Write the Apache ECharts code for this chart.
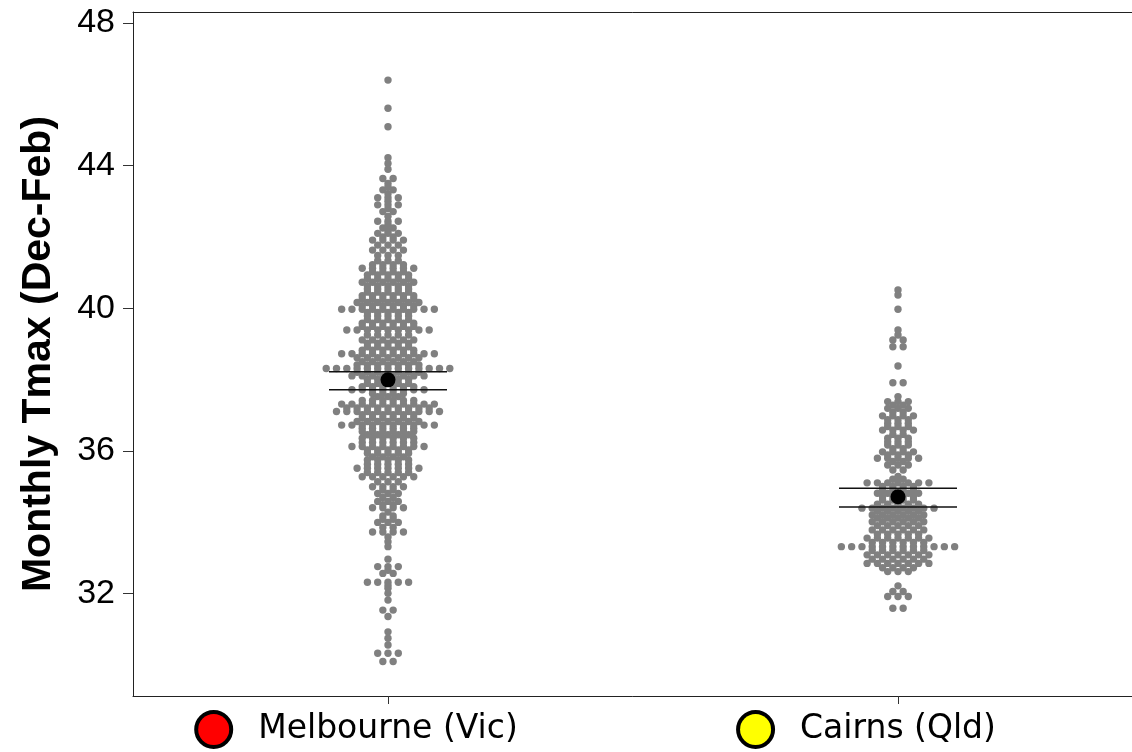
<!DOCTYPE html>
<html>
<head>
<meta charset="utf-8">
<script src="https://cdn.jsdelivr.net/npm/echarts@6/dist/echarts.min.js"></script>
<style>
html,body{margin:0;padding:0;background:#ffffff;}
#chart{width:1132px;height:752px;}
</style>
</head>
<body>
<div id="chart"></div>
<script>
// ---- data ----
const categories = ['Melbourne (Vic)', 'Cairns (Qld)'];
const keyColors = ['#ff0000', '#ffff00'];
const yTicks = [32, 36, 40, 44, 48];
const yTitle = 'Monthly Tmax (Dec-Feb)';

const melbourneTmax = [
  46.40, 45.61, 45.09, 44.22, 44.06, 43.90,
  43.64, 43.64, 43.50, 43.40, 43.32, 43.32, 43.21,
  43.10, 43.10, 43.10, 43.00, 42.90, 42.90, 42.90, 42.80, 42.71, 42.71, 42.58,
  42.44, 42.44, 42.44, 42.35, 42.25, 42.25, 42.17, 42.10, 42.10, 42.10, 42.00, 42.00,
  41.91, 41.91, 41.91, 41.91, 41.77, 41.77, 41.77,
  41.63, 41.63, 41.63, 41.63, 41.48, 41.48, 41.48,
  41.33, 41.33, 41.33, 41.22, 41.22, 41.22, 41.22,
  41.12, 41.12, 41.12, 41.12, 41.12, 41.12,
  41.02, 41.02, 41.02, 41.02,
  40.93, 40.93, 40.93, 40.93, 40.93,
  40.83, 40.83, 40.83, 40.83, 40.83,
  40.73, 40.73, 40.73, 40.73, 40.73, 40.73,
  40.63, 40.63, 40.63, 40.63, 40.63,
  40.54, 40.54, 40.54, 40.54, 40.54,
  40.45, 40.45, 40.45, 40.45, 40.45,
  40.35, 40.35, 40.35, 40.35, 40.35, 40.35,
  40.26, 40.26, 40.26, 40.26, 40.26, 40.26,
  40.16, 40.16, 40.16, 40.16, 40.16, 40.16, 40.16,
  40.07, 40.07, 40.07, 40.07, 40.07, 40.07,
  39.97, 39.97, 39.97, 39.97, 39.97, 39.97, 39.97, 39.97, 39.97, 39.97,
  39.88, 39.88, 39.88, 39.88, 39.88,
  39.78, 39.78, 39.78, 39.78, 39.78,
  39.68, 39.68, 39.68, 39.68, 39.68,
  39.58, 39.58, 39.58, 39.58, 39.58, 39.58,
  39.49, 39.49, 39.49, 39.49, 39.49, 39.49,
  39.39, 39.39, 39.39, 39.39, 39.39, 39.39, 39.39, 39.39, 39.39,
  39.25, 39.25, 39.25, 39.25, 39.25,
  39.11, 39.11, 39.11, 39.11, 39.11, 39.11,
  39.02, 39.02, 39.02, 39.02, 39.02,
  38.92, 38.92, 38.92, 38.92, 38.92,
  38.82, 38.82, 38.82, 38.82, 38.82, 38.82,
  38.72, 38.72, 38.72, 38.72, 38.72, 38.72, 38.72, 38.72, 38.72, 38.72,
  38.61, 38.61, 38.61, 38.61, 38.61, 38.61, 38.61,
  38.50, 38.50, 38.50, 38.50, 38.50, 38.50,
  38.41, 38.41, 38.41, 38.41, 38.41, 38.41, 38.41,
  38.31, 38.31, 38.31, 38.31, 38.31, 38.31, 38.31, 38.31, 38.31, 38.31, 38.31, 38.31, 38.31,
  38.20, 38.20, 38.20, 38.20, 38.20, 38.20, 38.20,
  38.10, 38.10, 38.10, 38.10, 38.10, 38.10, 38.10, 38.10,
  38.00, 38.00, 38.00, 38.00, 38.00,
  37.89, 37.89, 37.89, 37.89, 37.89,
  37.80, 37.80, 37.80, 37.80, 37.80, 37.80,
  37.71, 37.71, 37.71, 37.71, 37.71, 37.71, 37.71, 37.71,
  37.61, 37.61, 37.61, 37.61,
  37.52, 37.52, 37.52,
  37.41, 37.41, 37.41, 37.41, 37.41, 37.41,
  37.31, 37.31, 37.31, 37.31, 37.31, 37.31, 37.31, 37.31, 37.31, 37.31,
  37.20, 37.20, 37.20, 37.20, 37.20, 37.20, 37.20, 37.20, 37.20,
  37.10, 37.10, 37.10, 37.10, 37.10, 37.10, 37.10, 37.10, 37.10, 37.10, 37.10,
  37.01, 37.01, 37.01, 37.01, 37.01, 37.01,
  36.92, 36.92, 36.92, 36.92, 36.92, 36.92,
  36.82, 36.82, 36.82, 36.82, 36.82, 36.82, 36.82,
  36.72, 36.72, 36.72, 36.72, 36.72, 36.72, 36.72, 36.72, 36.72, 36.72,
  36.63, 36.63, 36.63, 36.63, 36.63, 36.63,
  36.54, 36.54, 36.54, 36.54, 36.54, 36.54,
  36.45, 36.45, 36.45, 36.45, 36.45,
  36.35, 36.35, 36.35, 36.35, 36.35, 36.35,
  36.23, 36.23, 36.23, 36.23, 36.23, 36.23,
  36.12, 36.12, 36.12, 36.12, 36.12, 36.12, 36.12, 36.12,
  36.02, 36.02, 36.02, 36.02, 36.02,
  35.93, 35.93, 35.93, 35.93, 35.93,
  35.83, 35.83, 35.83, 35.83,
  35.74, 35.74, 35.74, 35.74, 35.74,
  35.62, 35.62, 35.62, 35.62, 35.62,
  35.51, 35.51, 35.51, 35.51, 35.51, 35.51, 35.51,
  35.39, 35.39, 35.39, 35.39, 35.39,
  35.27, 35.27, 35.27, 35.27, 35.27, 35.27,
  35.13, 35.13, 35.13,
  34.99, 34.99, 34.99, 34.99, 34.90, 34.90,
  34.80, 34.80, 34.80, 34.69, 34.69,
  34.58, 34.58, 34.58, 34.49, 34.49,
  34.40, 34.40, 34.40, 34.40, 34.28,
  34.17, 34.17, 34.08, 34.08, 33.99, 33.99, 33.99,
  33.85, 33.85, 33.72, 33.72, 33.72, 33.72,
  33.58, 33.45, 33.31, 32.96,
  32.75, 32.75, 32.75, 32.65, 32.56, 32.56,
  32.31, 32.31, 32.31, 32.31, 32.31,
  32.22, 32.14, 32.00, 31.81, 31.53, 31.53, 31.35,
  30.92, 30.74, 30.55, 30.32, 30.32, 30.32, 30.09, 30.09
];

const cairnsTmax = [
  40.51, 40.37, 39.97, 39.39, 39.25, 39.11, 39.11, 38.92, 38.92,
  38.38, 37.91, 37.91, 37.52,
  37.38, 37.38, 37.38, 37.28, 37.28,
  37.19, 37.19, 37.19, 37.08, 37.08,
  36.98, 36.98, 36.98, 36.98, 36.87, 36.87, 36.87,
  36.77, 36.77, 36.77, 36.68, 36.68, 36.68,
  36.58, 36.58, 36.58, 36.58, 36.46, 36.46,
  36.35, 36.35, 36.35, 36.25, 36.25, 36.25,
  36.16, 36.16, 36.16, 36.06, 36.06,
  35.97, 35.97, 35.97, 35.97, 35.88, 35.88, 35.88,
  35.79, 35.79, 35.79, 35.79, 35.79, 35.70, 35.70,
  35.60, 35.60, 35.60, 35.46, 35.46, 35.28, 35.20, 35.20,
  35.10, 35.10, 35.10, 35.10, 35.10, 35.10, 35.10,
  35.00, 35.00, 35.00, 35.00, 34.90, 34.90, 34.90, 34.90,
  34.81, 34.81, 34.81, 34.81, 34.81, 34.72, 34.72, 34.72, 34.72,
  34.62, 34.62, 34.62, 34.62, 34.50, 34.50, 34.50, 34.50, 34.50,
  34.39, 34.39, 34.39, 34.39, 34.39, 34.39, 34.39, 34.39,
  34.30, 34.30, 34.30, 34.30, 34.30,
  34.20, 34.20, 34.20, 34.20, 34.20, 34.20,
  34.11, 34.11, 34.11, 34.11, 34.11,
  34.01, 34.01, 34.01, 34.01, 34.01, 34.01,
  33.90, 33.90, 33.90, 33.90, 33.90,
  33.78, 33.78, 33.78, 33.78, 33.78, 33.78,
  33.66, 33.66, 33.66, 33.66, 33.66,
  33.55, 33.55, 33.55, 33.55, 33.55, 33.55, 33.55,
  33.43, 33.43, 33.43, 33.43, 33.43, 33.43,
  33.31, 33.31, 33.31, 33.31, 33.31, 33.31, 33.31, 33.31, 33.31, 33.31, 33.31, 33.31,
  33.20, 33.20, 33.20, 33.20, 33.20, 33.20,
  33.08, 33.08, 33.08, 33.08, 33.08, 33.08, 33.08,
  32.96, 32.96, 32.96, 32.96, 32.96, 32.96,
  32.84, 32.84, 32.84, 32.84, 32.84, 32.84, 32.84,
  32.72, 32.72, 32.72, 32.72, 32.61, 32.61, 32.61,
  32.21, 32.05, 32.05, 31.91, 31.91, 31.91, 31.58, 31.58
];

const means = [37.99, 34.71];
const ciLow = [37.71, 34.42];
const ciHigh = [38.22, 34.95];

// ---- layout helpers (dot-plot style rows, centred) ----
const DOT_STEP = 10.3;   // px between neighbours in a row
const DOT_R = 3.7;
const CI_HALF = 59;

function swarmRows(values, xPos) {
  const s = values.slice().sort((a, b) => a - b);
  const out = [];
  let i = 0;
  while (i < s.length) {
    let j = i;
    while (j < s.length && s[j] - s[i] < 0.05) j++;
    const n = j - i;
    for (let k = 0; k < n; k++) out.push([xPos, s[i + k], k - (n - 1) / 2]);
    i = j;
  }
  return out;
}

const swarmData = swarmRows(melbourneTmax, 1).concat(swarmRows(cairnsTmax, 2));

const chart = echarts.init(document.getElementById('chart'), null, {renderer: 'canvas'});

const richStyles = {
  t: {fontFamily: 'DejaVu Sans', fontSize: 33, color: '#000', padding: [0, 0, 0, 29], verticalAlign: 'middle'},
  s: {width: 60, height: 31, verticalAlign: 'middle'}
};
keyColors.forEach((c, i) => {
  richStyles['k' + i] = {width: 31, height: 31, borderRadius: 16, backgroundColor: c,
    borderColor: '#000', borderWidth: 4, verticalAlign: 'middle'};
});

const option = {
  animation: false,
  backgroundColor: '#ffffff',
  grid: {left: 133, top: 12, width: 1020, height: 684, containLabel: false, outerBoundsMode: 'none'},
  xAxis: [{
    type: 'value', min: 0.5, max: 2.5, position: 'bottom',
    axisLine: {show: true, lineStyle: {color: '#222', width: 1}},
    axisTick: {show: true, length: 8, customValues: [1, 2], lineStyle: {color: '#333', width: 1}},
    splitLine: {show: false},
    axisLabel: {
      show: true, margin: 17, customValues: [1, 2],
      formatter: function (v) {
        const i = Math.round(v) - 1;
        return '{k' + i + '|}{t|' + categories[i] + '}{s|}';
      },
      rich: richStyles
    }
  }, {
    type: 'value', min: 0.5, max: 2.5, position: 'top',
    axisLine: {show: true, onZero: false, lineStyle: {color: '#222', width: 1}},
    axisTick: {show: false}, axisLabel: {show: false}, splitLine: {show: false}
  }],
  yAxis: {
    type: 'value', min: 29.12, max: 48.31,
    name: yTitle, nameLocation: 'middle', nameGap: 74,
    nameTextStyle: {fontFamily: 'Liberation Sans', fontWeight: 'bold', fontSize: 41, color: '#000'},
    axisLine: {show: true, lineStyle: {color: '#222', width: 1}},
    axisTick: {show: true, length: 10, customValues: yTicks, lineStyle: {color: '#333', width: 1}},
    axisLabel: {show: true, customValues: yTicks, margin: 18, fontFamily: 'Liberation Sans', fontSize: 34, color: '#000'},
    splitLine: {show: false}
  },
  series: [{
    type: 'custom',
    xAxisIndex: 0, yAxisIndex: 0,
    silent: true,
    dimensions: ['x', 'y', 'slot'],
    encode: {x: 0, y: 1},
    data: swarmData,
    renderItem: function (params, api) {
      const p = api.coord([api.value(0), api.value(1)]);
      return {type: 'circle', shape: {cx: p[0] + api.value(2) * DOT_STEP, cy: p[1], r: DOT_R},
        style: {fill: '#808080'}};
    },
    z: 2
  }, {
    type: 'custom',
    silent: true,
    dimensions: ['x', 'lo', 'hi'],
    encode: {x: 0, y: [1, 2]},
    data: means.map((m, i) => [i + 1, ciLow[i], ciHigh[i]]),
    renderItem: function (params, api) {
      const lo = api.coord([api.value(0), api.value(1)]);
      const hi = api.coord([api.value(0), api.value(2)]);
      return {type: 'group', children: [
        {type: 'line', shape: {x1: lo[0] - CI_HALF, y1: lo[1], x2: lo[0] + CI_HALF, y2: lo[1]}, style: {stroke: '#111', lineWidth: 1.5}},
        {type: 'line', shape: {x1: hi[0] - CI_HALF, y1: hi[1], x2: hi[0] + CI_HALF, y2: hi[1]}, style: {stroke: '#111', lineWidth: 1.5}}
      ]};
    },
    z: 3
  }, {
    type: 'scatter',
    silent: true,
    symbol: 'circle', symbolSize: 15,
    itemStyle: {color: '#000', opacity: 1},
    data: means.map((m, i) => [i + 1, m]),
    z: 4
  }]
};

chart.setOption(option);
</script>
</body>
</html>
